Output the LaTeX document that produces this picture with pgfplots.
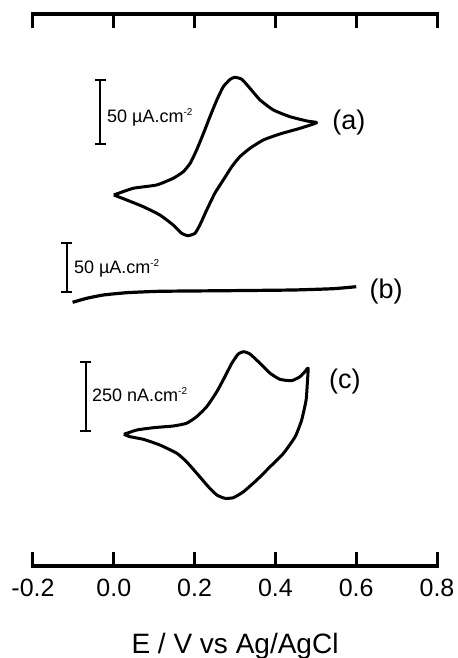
\documentclass[border=0pt]{standalone}
\usepackage{fontspec}
\setmainfont{Liberation Sans}
\usepackage{pgfplots}
\pgfplotsset{compat=1.18}
\usetikzlibrary{calc}
\begin{document}
\begin{tikzpicture}
\begin{axis}[
  scale only axis, width=404pt, height=552pt,
  xmin=-0.2, xmax=0.8, ymin=92, ymax=644,
  axis x line=box, axis y line=none, separate axis lines,
  xtick={-0.2,0,0.2,0.4,0.6,0.8},
  xticklabels={-0.2,0.0,0.2,0.4,0.6,0.8},
  xtick pos=both, xticklabel pos=lower, tick align=inside,
  ytick=\empty,
  major tick length=14pt,
  x axis line style={line width=3.2pt, line cap=rect},
  every outer x axis line/.append style={line width=3.2pt, line cap=rect},
  tick style={black, line width=3pt},
  xtick style={black, line width=3pt},
  every x tick/.append style={black, line width=3pt},
  every major x tick/.append style={black, line width=3pt},
  xticklabel style={font=\fontsize{25}{30}\selectfont, yshift=-10pt},
  xlabel={E / V vs Ag/AgCl},
  xlabel style={font=\fontsize{28}{34}\selectfont, at={(axis description cs:0.5,0)}, anchor=base, yshift=-87pt},
  clip=false,
]
% curve (a)
\addplot[black, line width=3pt, line join=round, smooth, tension=0.3] coordinates {
(0.000,463) (0.048,469.7) (0.106,473) (0.147,479.7) (0.172,486.3) (0.189,494.7) (0.205,508) (0.222,524.7) (0.238,541.3) (0.255,558) (0.271,571.3) (0.288,578.7) (0.300,580.7) (0.317,578.7) (0.337,569.7) (0.362,558) (0.395,548) (0.436,541.3) (0.478,537) (0.502,535.3) (0.461,529.7) (0.411,524) (0.370,518) (0.337,509.7) (0.312,501.3) (0.292,491.3) (0.271,478) (0.250,464.7) (0.230,448) (0.213,433) (0.201,424.7) (0.184,422.3) (0.168,424.7) (0.147,433) (0.114,443) (0.073,451.3) (0.032,458) (0.000,463)
};
% curve (b)
\addplot[black, line width=3.2pt, line join=round, smooth, tension=0.3] coordinates {
(-0.102,355.7) (-0.067,359.7) (-0.026,363) (0.032,365.3) (0.114,366.7) (0.279,367.3) (0.444,368) (0.543,369.3) (0.600,371.3)
};
% curve (c)
\addplot[black, line width=3pt, line join=round, smooth, tension=0.3] coordinates {
(0.025,223.7) (0.057,228) (0.098,230.3) (0.147,232) (0.180,234.7) (0.205,241.3) (0.230,251.3) (0.255,266.3) (0.275,281.3) (0.292,294.7) (0.308,304) (0.321,306.3) (0.337,304) (0.362,294.7) (0.387,284.7) (0.411,278.7) (0.440,277.3) (0.461,281.3) (0.473,286.3) (0.481,289.7) (0.479,274.7) (0.476,258) (0.465,238) (0.449,221.3) (0.420,204.7) (0.387,191.3) (0.354,178) (0.321,166.3) (0.296,160.3) (0.275,159.7) (0.255,163) (0.234,171.3) (0.209,183) (0.180,196.3) (0.156,204.7) (0.114,213) (0.073,218.7) (0.040,221.3) (0.025,223.7)
};
% scale bars
\addplot[black, line width=2.8pt, mark=-, mark size=5.5pt, mark options={line width=2.8pt}] coordinates {(-0.034,514) (-0.034,578)};
\addplot[black, line width=2.8pt, mark=-, mark size=5.5pt, mark options={line width=2.8pt}] coordinates {(-0.116,366) (-0.116,415)};
\addplot[black, line width=2.8pt, mark=-, mark size=5.5pt, mark options={line width=2.8pt}] coordinates {(-0.069,227) (-0.069,296)};
\node[anchor=west, inner sep=0pt, font=\fontsize{18}{20}\selectfont] at (axis cs:-0.017,541) {50 µA.cm\raisebox{7pt}{\fontsize{10}{10}\selectfont -2}};
\node[anchor=west, inner sep=0pt, font=\fontsize{18}{20}\selectfont] at (axis cs:-0.099,390) {50 µA.cm\raisebox{7pt}{\fontsize{10}{10}\selectfont -2}};
\node[anchor=west, inner sep=0pt, font=\fontsize{18}{20}\selectfont] at (axis cs:-0.054,263) {250 nA.cm\raisebox{7pt}{\fontsize{10}{10}\selectfont -2}};
\node[inner sep=0pt, font=\fontsize{27}{32}\selectfont] at (axis cs:0.582,535) {(a)};
\node[inner sep=0pt, font=\fontsize{27}{32}\selectfont] at (axis cs:0.674,366) {(b)};
\node[inner sep=0pt, font=\fontsize{27}{32}\selectfont] at (axis cs:0.572,276) {(c)};
\end{axis}
\pgfresetboundingbox
\path[use as bounding box] ($(current axis.south west)+(-33pt,-92pt)$) rectangle ($(current axis.north east)+(20pt,14pt)$);
\end{tikzpicture}
\end{document}
